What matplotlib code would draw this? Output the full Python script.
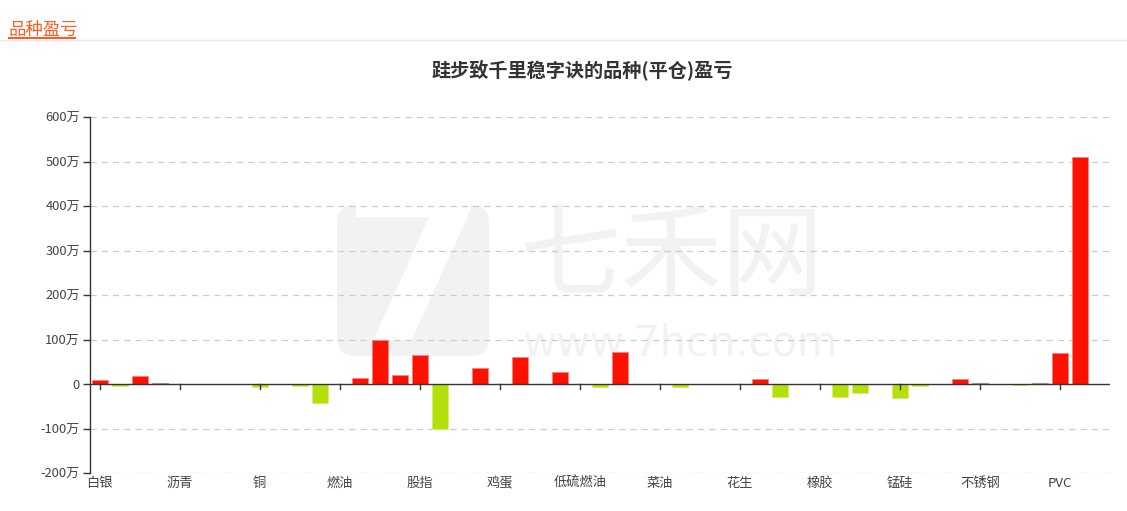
import matplotlib
matplotlib.use("Agg")
import matplotlib.pyplot as plt
from matplotlib.patches import FancyBboxPatch, Rectangle
import numpy as np

plt.rcParams['font.family'] = ['Noto Sans CJK SC', 'DejaVu Sans']

title = "跬步致千里稳字诀的品种(平仓)盈亏"
header = "品种盈亏"

# visible category labels (every 4th category is labelled)
shown_labels = ["白银", "沥青", "铜", "燃油", "股指", "鸡蛋", "低硫燃油",
                "菜油", "花生", "橡胶", "锰硅", "不锈钢", "PVC"]
label_step = 4

# profit/loss per category, in 万
values = [8, -4, 17, 2, -1, -1, -0.5, 0, -6, -1,
          -4, -42, 0.5, 13, 98, 20, 64.5, -102, 1, 37,
          -0.5, 61, 0, 28, 0, -7, 71, -1, -1, -6,
          0, 0, -1, 10.5, -28.5, 0, -0.5, -30, -19.5, -0.5,
          -31.5, -3.5, 0.5, 10.5, 2.5, -0.5, -3, 2.5, 70, 509,
          -0.5]

y_ticks = [-200, -100, 0, 100, 200, 300, 400, 500, 600]

RED = "#ff1100"
GREEN = "#b3e00a"

W, H = 1127, 511
fig = plt.figure(figsize=(W / 100, H / 100), dpi=100)

# background / watermark layer in pixel coordinates
bg = fig.add_axes([0, 0, 1, 1], zorder=0)
bg.set_xlim(0, W)
bg.set_ylim(H, 0)
bg.axis("off")

# header
bg.text(8, 35, header, fontsize=12.5, color="#ff5a1f", ha="left",
        va="baseline", fontweight="medium")
bg.add_patch(Rectangle((8, 37), 68, 2.2, color="#ff5a1f", lw=0))
bg.plot([0, W], [40.5, 40.5], color="#e8e8e8", lw=1)

# watermark
wm = "#f2f2f2"
bg.add_patch(FancyBboxPatch((337, 205), 152, 151,
                            boxstyle="round,pad=0,rounding_size=18",
                            fc=wm, ec="none"))
bg.text(415, 282, "7", fontsize=150, color="white", ha="center", va="center",
        fontweight="bold", family="DejaVu Sans")
bg.text(671, 258, "七禾网", fontsize=73, color=wm, ha="center", va="center")
bg.text(680, 343, "www.7hcn.com", fontsize=30, color=wm, ha="center",
        va="center", family="DejaVu Sans")

# title
bg.text(582, 70, title, fontsize=13.8, color="#333333", ha="center",
        va="center", fontweight="bold")

# main axes
ax = fig.add_axes([89.5 / W, 1 - 473 / H, (1110 - 89.5) / W, (473 - 117) / H],
                  zorder=1)
ax.patch.set_alpha(0)

x = np.arange(len(values))
colors = [RED if v >= 0 else GREEN for v in values]
edge = ["#ff8080" if v >= 0 else "#d8f06a" for v in values]
ax.bar(x, values, width=0.8, color=colors, edgecolor=edge, linewidth=0.6,
       zorder=3)

ax.set_xlim(-0.5, len(values) - 0.5)
ax.set_ylim(-200, 600)

# grid
for yv in y_ticks:
    if yv != 0:
        ax.axhline(yv, color="#cccccc", lw=0.9, ls=(0, (5, 4)), zorder=1)
ax.axhline(0, color="#333333", lw=1, zorder=4)

for s in ["top", "right", "bottom"]:
    ax.spines[s].set_visible(False)
ax.spines["left"].set_color("#333333")
ax.spines["left"].set_linewidth(1)

ax.set_yticks(y_ticks)
ax.set_yticklabels([("%d万" % v) if v != 0 else "0" for v in y_ticks])
ax.tick_params(axis="y", length=5, width=1, color="#333333",
               labelcolor="#444444", labelsize=9.3, pad=2)

# x ticks: marks on the zero line, labels at the bottom
tick_pos = x[::label_step]
ax.set_xticks([])
for p, lab in zip(tick_pos, shown_labels):
    ax.plot([p, p], [0, -11.5], color="#333333", lw=1, zorder=4, clip_on=False)
    ax.text(p, -209, lab, fontsize=9.5, color="#444444", ha="center", va="top")

fig.savefig("out.png", dpi=100)
